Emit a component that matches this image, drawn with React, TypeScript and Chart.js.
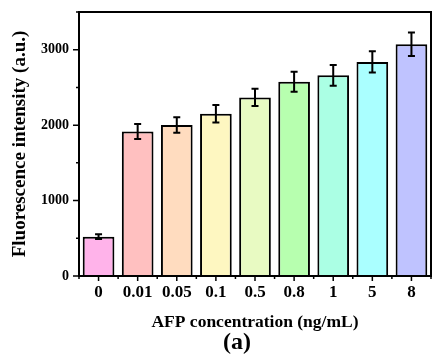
import React, { useEffect, useRef } from "react";
import { Chart, registerables } from "chart.js";

Chart.register(...registerables);

const categories = ["0", "0.01", "0.05", "0.1", "0.5", "0.8", "1", "5", "8"];
const intensity = [522, 1916, 2001, 2151, 2368, 2576, 2660, 2838, 3072];
const errors = [30, 100, 102, 115, 115, 133, 137, 141, 155];
const barColors = [
  "#ffb3ea",
  "#ffc0c0",
  "#ffdcbf",
  "#fef7c1",
  "#e8fac2",
  "#b7ffaf",
  "#abffe4",
  "#aaffff",
  "#bfc3ff",
];
const yMajorTicks = [0, 1000, 2000, 3000];
const yMinorTicks = [500, 1500, 2500, 3500];
const panelLabel = "(a)";

const FONT = "'Times New Roman', 'Liberation Serif', serif";

const framePlugin = {
  id: "frameAndTicks",
  afterDraw(chart: any) {
    const { ctx, chartArea } = chart;
    const { left, right, top, bottom } = chartArea;
    const xs = chart.scales.x;
    const ys = chart.scales.y;
    ctx.save();
    ctx.strokeStyle = "#000";
    ctx.lineWidth = 2;
    ctx.strokeRect(left, top, right - left, bottom - top);
    ctx.lineWidth = 1.5;
    ctx.beginPath();
    yMajorTicks.forEach((v) => {
      const y = ys.getPixelForValue(v);
      ctx.moveTo(left - 6, y);
      ctx.lineTo(left, y);
    });
    yMinorTicks.forEach((v) => {
      const y = ys.getPixelForValue(v);
      ctx.moveTo(left - 3, y);
      ctx.lineTo(left, y);
    });
    const n = categories.length;
    for (let i = 0; i < n; i++) {
      const x = xs.getPixelForValue(i);
      ctx.moveTo(x, bottom);
      ctx.lineTo(x, bottom + 5);
    }
    for (let i = 0; i <= n; i++) {
      const x = xs.getPixelForValue(i - 0.5);
      ctx.moveTo(x, bottom);
      ctx.lineTo(x, bottom + 3);
    }
    ctx.stroke();

    // panel label
    ctx.fillStyle = "#000";
    ctx.font = `bold 24px ${FONT}`;
    ctx.textAlign = "center";
    ctx.textBaseline = "middle";
    ctx.fillText(panelLabel, left + 158, chart.height - 11);
    ctx.restore();
  },
};

const errorBarPlugin = {
  id: "errorBars",
  afterDatasetsDraw(chart: any) {
    const { ctx } = chart;
    const xs = chart.scales.x;
    const ys = chart.scales.y;
    ctx.save();
    ctx.strokeStyle = "#000";
    ctx.lineWidth = 2;
    intensity.forEach((v, i) => {
      const x = xs.getPixelForValue(i);
      const yHi = ys.getPixelForValue(v + errors[i]);
      const yLo = ys.getPixelForValue(v - errors[i]);
      const cap = 3.5;
      ctx.beginPath();
      ctx.moveTo(x, yHi);
      ctx.lineTo(x, yLo);
      ctx.moveTo(x - cap, yHi);
      ctx.lineTo(x + cap, yHi);
      ctx.moveTo(x - cap, yLo);
      ctx.lineTo(x + cap, yLo);
      ctx.stroke();
    });
    ctx.restore();
  },
};

export default function App() {
  const ref = useRef<HTMLCanvasElement | null>(null);
  useEffect(() => {
    document.body.style.margin = "0";
    const canvas = ref.current;
    if (!canvas) return;
    const chart = new Chart(canvas, {
      type: "bar",
      data: {
        labels: categories,
        datasets: [
          {
            data: intensity,
            backgroundColor: barColors,
            borderColor: "#000",
            borderWidth: 2,
            barPercentage: 0.81,
            categoryPercentage: 1,
          },
        ],
      },
      options: {
        animation: false,
        responsive: false,
        devicePixelRatio: 1,
        layout: { padding: { top: 12, right: 10, left: 0, bottom: 23 } },
        plugins: {
          legend: { display: false },
          tooltip: { enabled: false },
          title: { display: false },
        },
        scales: {
          x: {
            grid: { display: false, drawTicks: false },
            border: { display: false },
            ticks: {
              color: "#000",
              padding: 7,
              font: { family: FONT, size: 17, weight: "bold", lineHeight: 1.15 },
              maxRotation: 0,
            },
            title: {
              display: true,
              text: "AFP concentration (ng/mL)",
              color: "#000",
              font: { family: FONT, size: 17.5, weight: "bold", lineHeight: 1 },
              padding: { top: 0, bottom: 0 },
            },
            afterFit(scale: any) {
              scale.height = 354 - 276 - 23;
            },
          },
          y: {
            min: 0,
            max: 3500,
            grid: { display: false, drawTicks: false },
            border: { display: false },
            ticks: {
              stepSize: 500,
              color: "#000",
              padding: 10,
              font: { family: FONT, size: 14, weight: "bold" },
              callback: (v: any) => (yMajorTicks.includes(Number(v)) ? String(v) : ""),
            },
            title: {
              display: true,
              text: "Fluorescence intensity (a.u.)",
              color: "#000",
              font: { family: FONT, size: 19, weight: "bold" },
              padding: { top: 8.6, bottom: 0 },
            },
            afterFit(scale: any) {
              scale.width = 79;
              scale.paddingTop = 0;
              scale.paddingBottom = 0;
            },
          },
        },
      },
      plugins: [errorBarPlugin, framePlugin],
    });
    return () => chart.destroy();
  }, []);
  return <canvas ref={ref} width={441} height={354} style={{ display: "block" }} />;
}
